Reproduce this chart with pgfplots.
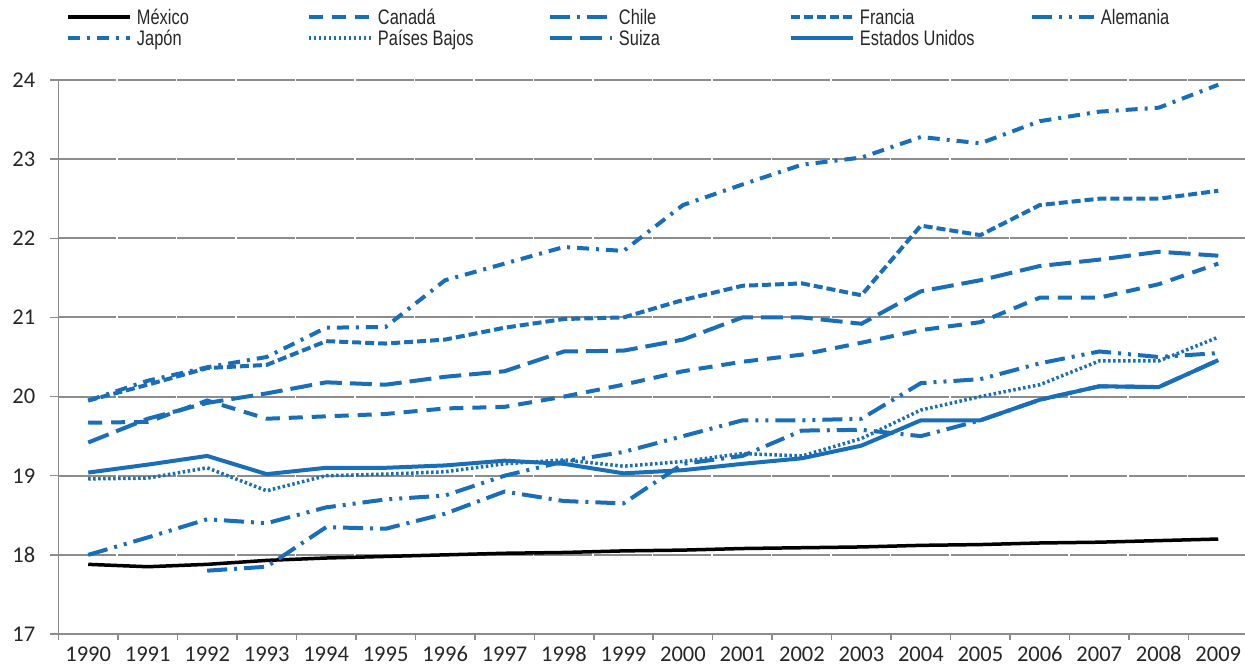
\documentclass[border=0pt]{standalone}
\usepackage{fontspec}
\usepackage{pgfplots}
\pgfplotsset{compat=1.18}
\setmainfont{Carlito}
\newfontfamily\legfont[FakeStretch=0.78]{Liberation Sans}
\definecolor{serblue}{RGB}{25,110,185}
\definecolor{gridgray}{RGB}{140,140,140}
\definecolor{txt}{RGB}{38,38,38}
\newcommand{\legtxt}[1]{\hspace{5bp}\makebox[170bp][l]{\legfont\fontsize{21bp}{21bp}\selectfont #1}}
\begin{document}
\begin{tikzpicture}
\useasboundingbox (0,0) rectangle (1245bp,666bp);
\begin{axis}[
  at={(58.5bp,32bp)}, anchor=south west,
  scale only axis, width=1189.5bp, height=554bp,
  xmin=-0.5, xmax=19.5, ymin=17, ymax=24,
  axis x line*=bottom, axis y line*=left,
  axis line style={gridgray, line width=1.5bp},
  xtick={0,...,19},
  xticklabels={1990,1991,1992,1993,1994,1995,1996,1997,1998,1999,2000,2001,2002,2003,2004,2005,2006,2007,2008,2009},
  minor xtick={-0.5,0.5,...,19.5},
  ytick={17,18,...,24},
  tick align=outside,
  major tick length=8bp, minor tick length=6bp,
  tick style={gridgray, line width=1.5bp},
  major x tick style={draw=none},
  ymajorgrids,
  grid style={gridgray, line width=2bp, dash pattern=on 57.97bp off 1.5bp},
  ticklabel style={font=\fontsize{22.5bp}{23bp}\selectfont, text=txt, inner sep=0pt},
  xticklabel style={anchor=base, yshift=-20bp},
  yticklabel style={xshift=-15bp},
  /pgf/number format/assume math mode=true,
  legend columns=5,
  legend cell align=left,
  legend image code/.code={\draw[#1] (0bp,0bp) -- (62bp,0bp);},
  legend style={at={(0.0063,1.1327)}, anchor=north west, draw=none, fill=none,
    column sep=0pt, row sep=0pt, inner sep=0pt, outer sep=0pt,
    nodes={inner sep=0pt, outer sep=0pt, text height=18bp, text depth=3bp, text=txt}},
]
\addplot[black, line width=3.5bp] coordinates {(0,17.88)(1,17.85)(2,17.88)(3,17.93)(4,17.96)(5,17.98)(6,18.0)(7,18.02)(8,18.03)(9,18.05)(10,18.06)(11,18.08)(12,18.09)(13,18.1)(14,18.12)(15,18.13)(16,18.15)(17,18.16)(18,18.18)(19,18.2)};
\addlegendentry{\legtxt{México}}
\addplot[serblue, line width=4bp, dash pattern=on 14bp off 9bp] coordinates {(0,19.67)(1,19.68)(2,19.95)(3,19.72)(4,19.75)(5,19.78)(6,19.85)(7,19.87)(8,20.0)(9,20.15)(10,20.32)(11,20.44)(12,20.53)(13,20.68)(14,20.84)(15,20.94)(16,21.25)(17,21.25)(18,21.42)(19,21.68)};
\addlegendentry{\legtxt{Canadá}}
\addplot[serblue, line width=4bp, dash pattern=on 20bp off 7bp on 3bp off 7bp] coordinates {(2,17.8)(3,17.85)(4,18.35)(5,18.33)(6,18.52)(7,18.8)(8,18.68)(9,18.65)(10,19.15)(11,19.25)(12,19.57)(13,19.58)(14,19.5)(15,19.7)(16,19.96)(17,20.13)(18,20.12)(19,20.46)};
\addlegendentry{\legtxt{Chile}}
\addplot[serblue, line width=4bp, dash pattern=on 9bp off 4bp] coordinates {(0,19.95)(1,20.15)(2,20.36)(3,20.4)(4,20.7)(5,20.67)(6,20.72)(7,20.87)(8,20.98)(9,21.0)(10,21.22)(11,21.4)(12,21.43)(13,21.28)(14,22.16)(15,22.04)(16,22.42)(17,22.5)(18,22.5)(19,22.6)};
\addlegendentry{\legtxt{Francia}}
\addplot[serblue, line width=4bp, dash pattern=on 20bp off 7bp on 3bp off 7bp on 3bp off 7bp] coordinates {(0,18.0)(1,18.22)(2,18.45)(3,18.4)(4,18.6)(5,18.7)(6,18.75)(7,19.0)(8,19.18)(9,19.3)(10,19.5)(11,19.7)(12,19.7)(13,19.72)(14,20.17)(15,20.22)(16,20.42)(17,20.57)(18,20.5)(19,20.55)};
\addlegendentry{\legtxt{Alemania}}
\addplot[serblue, line width=4bp, dash pattern=on 12bp off 7bp on 3bp off 7bp] coordinates {(0,19.95)(1,20.2)(2,20.37)(3,20.5)(4,20.87)(5,20.88)(6,21.47)(7,21.68)(8,21.89)(9,21.84)(10,22.42)(11,22.68)(12,22.93)(13,23.02)(14,23.28)(15,23.2)(16,23.48)(17,23.6)(18,23.65)(19,23.94)};
\addlegendentry{\legtxt{Japón}}
\addplot[serblue, line width=3.5bp, dash pattern=on 2.5bp off 2.5bp] coordinates {(0,18.96)(1,18.97)(2,19.1)(3,18.81)(4,19.0)(5,19.02)(6,19.05)(7,19.15)(8,19.2)(9,19.12)(10,19.18)(11,19.28)(12,19.25)(13,19.47)(14,19.83)(15,20.0)(16,20.15)(17,20.45)(18,20.45)(19,20.75)};
\addlegendentry{\legtxt{Países Bajos}}
\addplot[serblue, line width=4bp, dash pattern=on 22bp off 8bp] coordinates {(0,19.42)(1,19.72)(2,19.92)(3,20.04)(4,20.18)(5,20.15)(6,20.25)(7,20.32)(8,20.57)(9,20.58)(10,20.72)(11,21.0)(12,21.0)(13,20.92)(14,21.33)(15,21.47)(16,21.65)(17,21.73)(18,21.83)(19,21.78)};
\addlegendentry{\legtxt{Suiza}}
\addplot[serblue, line width=4bp] coordinates {(0,19.04)(1,19.14)(2,19.25)(3,19.02)(4,19.1)(5,19.1)(6,19.13)(7,19.19)(8,19.15)(9,19.03)(10,19.07)(11,19.15)(12,19.22)(13,19.38)(14,19.7)(15,19.7)(16,19.96)(17,20.13)(18,20.12)(19,20.46)};
\addlegendentry{\legtxt{Estados Unidos}}
\end{axis}
\end{tikzpicture}
\end{document}
